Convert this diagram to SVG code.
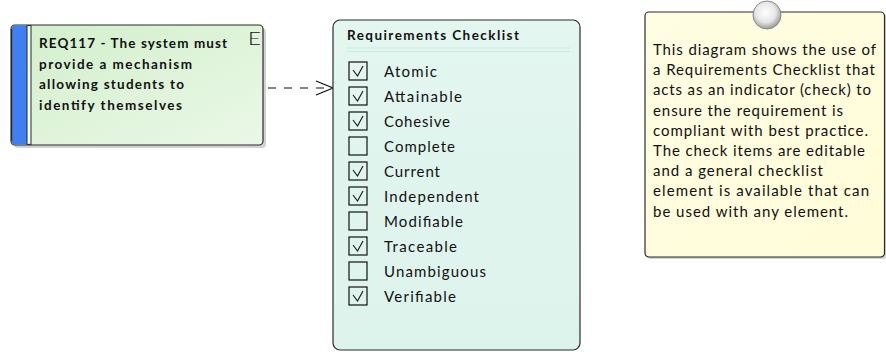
<svg xmlns="http://www.w3.org/2000/svg" width="886" height="352" viewBox="0 0 886 352">
<style>
.box{stroke:#2b2b2b;stroke-width:1.2}
.shadow{fill:#d2d2d2}
.bold{font-family:Lato,"Liberation Sans",sans-serif;font-weight:bold;font-size:13.5px;fill:#111}
.txt{font-family:Lato,"Liberation Sans",sans-serif;font-size:15px;fill:#111}
.cb{fill:none;stroke:#111;stroke-width:1.2}
.ck{fill:none;stroke:#111;stroke-width:1.1}
.conn{fill:none;stroke:#111;stroke-width:1.2}
</style>
<defs>
<linearGradient id="gReq" x1="0" y1="0" x2="1" y2="1">
<stop offset="0" stop-color="#d2efcb"/>
<stop offset="1" stop-color="#eaf8e7"/>
</linearGradient>
<linearGradient id="gChk" x1="0" y1="0" x2="0" y2="1">
<stop offset="0" stop-color="#e4f6f0"/>
<stop offset="1" stop-color="#dcf3ec"/>
</linearGradient>
<linearGradient id="gNote" x1="0" y1="0" x2="1" y2="1">
<stop offset="0" stop-color="#fffde2"/>
<stop offset="1" stop-color="#fffcd8"/>
</linearGradient>
<radialGradient id="gPin" cx="0.45" cy="0.4" r="0.6">
<stop offset="0" stop-color="#ffffff"/>
<stop offset="0.6" stop-color="#e6e6e6"/>
<stop offset="1" stop-color="#9a9a9a"/>
</radialGradient>
</defs>

<g id="connectors">
<line class="conn" x1="268" y1="88" x2="332" y2="88" stroke-dasharray="8,8"/>
<polyline class="conn" points="316,81 333,88 316,95"/>
</g>

<g id="req117">
<rect class="shadow" x="14" y="28" width="252" height="120" rx="4"/>
<rect class="box" x="11" y="25" width="252" height="120" rx="4" fill="url(#gReq)"/>
<path d="M15,25.6 H27 V144.4 H15 A3.4,3.4 0 0 1 11.6,141 V29 A3.4,3.4 0 0 1 15,25.6 Z" fill="#3f7ff2"/>
<line x1="11.6" y1="29" x2="11.6" y2="141" stroke="#2b2b2b" stroke-width="1.2"/>
<rect x="27" y="25.6" width="4" height="118.8" fill="#f4f9f3" stroke="#2b2b2b" stroke-width="1"/>
<text class="txt" x="248" y="45" style="font-size:18px;font-weight:300" textLength="13" lengthAdjust="spacingAndGlyphs">E</text>
<text class="bold" x="39" y="48" textLength="188" lengthAdjust="spacing">REQ117 - The system must</text>
<text class="bold" x="39" y="68.5" textLength="153" lengthAdjust="spacing">provide a mechanism</text>
<text class="bold" x="39" y="89" textLength="145" lengthAdjust="spacing">allowing students to</text>
<text class="bold" x="39" y="109.5" textLength="143" lengthAdjust="spacing">identify themselves</text>
</g>

<g id="checklist">
<rect class="box" x="333" y="20" width="247" height="330" rx="7" fill="url(#gChk)"/>
<text class="bold" x="347" y="40" textLength="172" lengthAdjust="spacing">Requirements Checklist</text>
<line x1="346" y1="48" x2="570" y2="48" stroke="#cbe9df" stroke-width="1"/>
<line x1="346" y1="51.5" x2="570" y2="51.5" stroke="#cbe9df" stroke-width="1"/>
<g id="items">
<rect class="cb" x="349" y="62" width="18" height="18"/><polyline class="ck" points="353,70 357.5,76 363,66"/>
<text class="txt" x="384" y="77" textLength="53" lengthAdjust="spacing">Atomic</text>
<rect class="cb" x="349" y="87" width="18" height="18"/><polyline class="ck" points="353,95 357.5,101 363,91"/>
<text class="txt" x="384" y="102" textLength="78" lengthAdjust="spacing">Attainable</text>
<rect class="cb" x="349" y="112" width="18" height="18"/><polyline class="ck" points="353,120 357.5,126 363,116"/>
<text class="txt" x="384" y="127" textLength="66" lengthAdjust="spacing">Cohesive</text>
<rect class="cb" x="349" y="137" width="18" height="18"/>
<text class="txt" x="384" y="152" textLength="71" lengthAdjust="spacing">Complete</text>
<rect class="cb" x="349" y="162" width="18" height="18"/><polyline class="ck" points="353,170 357.5,176 363,166"/>
<text class="txt" x="384" y="177" textLength="56" lengthAdjust="spacing">Current</text>
<rect class="cb" x="349" y="187" width="18" height="18"/><polyline class="ck" points="353,195 357.5,201 363,191"/>
<text class="txt" x="384" y="202" textLength="95" lengthAdjust="spacing">Independent</text>
<rect class="cb" x="349" y="212" width="18" height="18"/>
<text class="txt" x="384" y="227" textLength="79" lengthAdjust="spacing">Modifiable</text>
<rect class="cb" x="349" y="237" width="18" height="18"/><polyline class="ck" points="353,245 357.5,251 363,241"/>
<text class="txt" x="384" y="252" textLength="73" lengthAdjust="spacing">Traceable</text>
<rect class="cb" x="349" y="262" width="18" height="18"/>
<text class="txt" x="384" y="277" textLength="102" lengthAdjust="spacing">Unambiguous</text>
<rect class="cb" x="349" y="287" width="18" height="18"/><polyline class="ck" points="353,295 357.5,301 363,291"/>
<text class="txt" x="384" y="302" textLength="72" lengthAdjust="spacing">Verifiable</text>
</g>
</g>

<g id="note">
<rect class="shadow" x="647" y="14" width="240" height="245" rx="4"/>
<rect class="box" x="645" y="12" width="239.5" height="245" rx="4" fill="url(#gNote)"/>
<circle cx="767" cy="15" r="14" fill="url(#gPin)" stroke="#8a8a8a" stroke-width="1"/>
<text class="txt" x="653" y="55" textLength="223" lengthAdjust="spacing">This diagram shows the use of</text>
<text class="txt" x="653" y="75.2" textLength="222" lengthAdjust="spacing">a Requirements Checklist that</text>
<text class="txt" x="653" y="95.4" textLength="218" lengthAdjust="spacing">acts as an indicator (check) to</text>
<text class="txt" x="653" y="115.6" textLength="190" lengthAdjust="spacing">ensure the requirement is</text>
<text class="txt" x="653" y="135.8" textLength="215" lengthAdjust="spacing">compliant with best practice.</text>
<text class="txt" x="653" y="156" textLength="212" lengthAdjust="spacing">The check items are editable</text>
<text class="txt" x="653" y="176.2" textLength="170" lengthAdjust="spacing">and a general checklist</text>
<text class="txt" x="653" y="196.4" textLength="216" lengthAdjust="spacing">element is available that can</text>
<text class="txt" x="653" y="216.6" textLength="195" lengthAdjust="spacing">be used with any element.</text>
</g>
</svg>
